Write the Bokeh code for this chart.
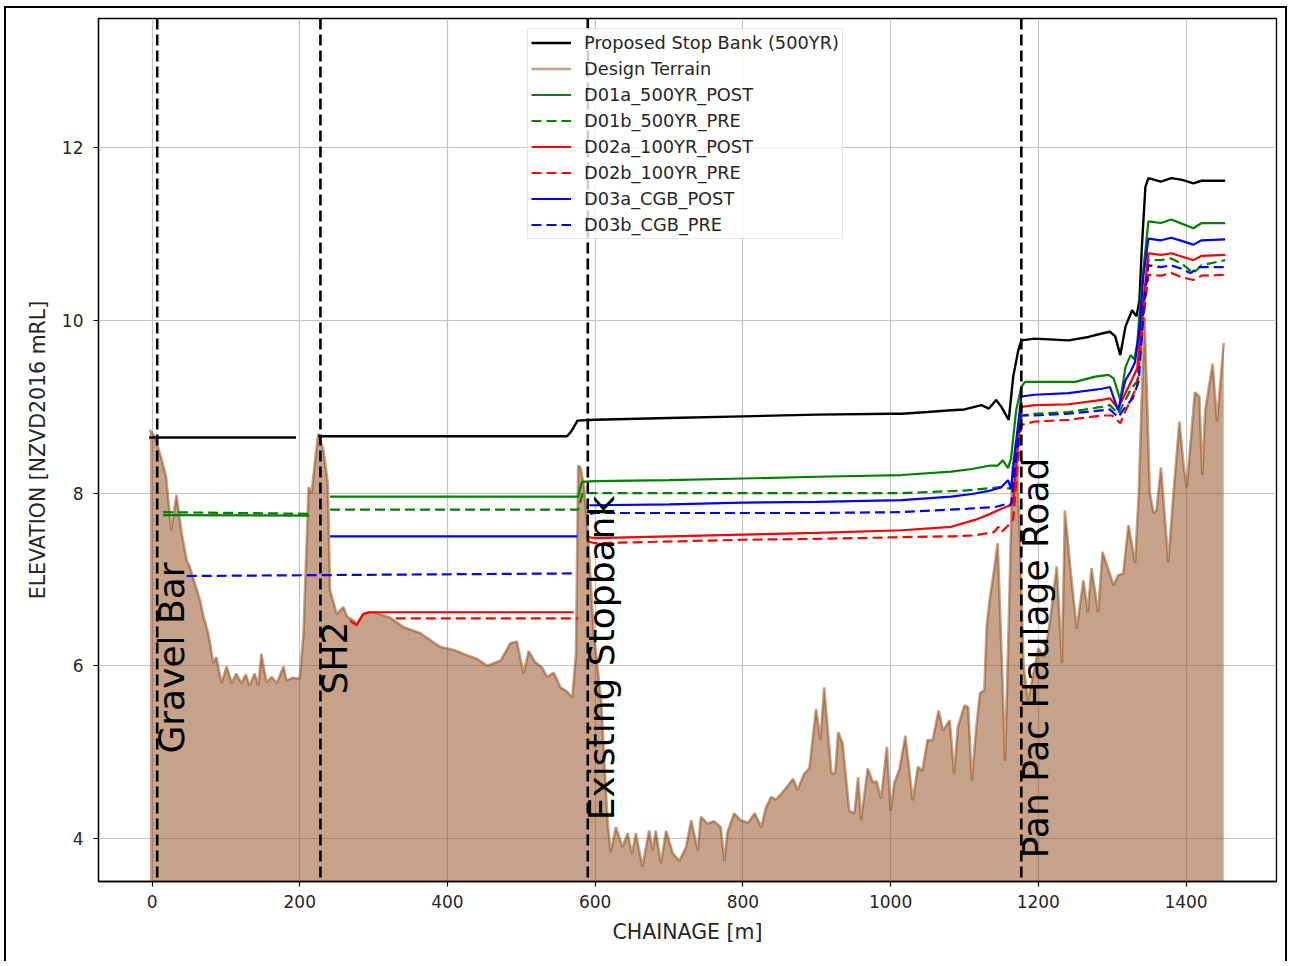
import math
from bokeh.plotting import figure
from bokeh.models import Range1d, FixedTicker, Span, Legend, LegendItem
from bokeh.core.properties import value
from bokeh.embed import file_html
from bokeh.resources import INLINE

nan = float("nan")

# ---------------- data ----------------
x_ticks = [0, 200, 400, 600, 800, 1000, 1200, 1400]
y_ticks = [4, 6, 8, 10, 12]

terrain_x = [-3, 4, 12, 19, 26, 33, 40, 47, 51, 58, 65, 70, 76, 83, 87, 94, 101, 108, 114, 121,
             127, 132, 139, 144, 148, 155, 162, 169, 178, 182, 190, 200, 205, 212, 216, 221, 225,
             232, 238, 241, 250, 259, 264, 272, 277, 286, 300, 322, 340, 363, 390, 410, 427, 440,
             454, 472, 485, 494, 503, 510, 518, 528, 535, 544, 553, 562, 569, 574, 577, 580, 585,
             590, 598, 608, 617, 621, 628, 637, 644, 650, 655, 664, 673, 678, 682, 689, 696, 705,
             714, 723, 730, 739, 743, 752, 761, 770, 775, 779, 788, 797, 807, 816, 825, 831, 838,
             845, 852, 860, 868, 874, 883, 890, 899, 905, 910, 920, 925, 929, 935, 944, 951, 956,
             960, 969, 976, 981, 987, 995, 1000, 1005, 1012, 1020, 1030, 1037, 1043, 1050, 1057,
             1065, 1071, 1080, 1086, 1091, 1100, 1105, 1110, 1116, 1121, 1127, 1130, 1134, 1140,
             1145, 1150, 1155, 1160, 1165, 1170, 1175, 1180, 1186, 1193, 1200, 1208, 1216, 1225,
             1232, 1236, 1245, 1252, 1261, 1267, 1272, 1281, 1287, 1293, 1302, 1308, 1315, 1322,
             1331, 1336, 1340, 1344, 1351, 1356, 1360, 1366, 1376, 1383, 1391, 1397, 1401, 1412,
             1418, 1422, 1426, 1436, 1442, 1451]
terrain_y = [8.73, 8.65, 8.42, 8.19, 7.57, 7.98, 7.54, 7.22, 7.15, 6.95, 6.76, 6.56, 6.38, 6.03, 6.10,
             5.80, 5.99, 5.80, 5.91, 5.80, 5.90, 5.77, 5.91, 5.77, 6.14, 5.81, 5.87, 5.80, 5.99, 5.83,
             5.86, 5.85, 6.37, 8.07, 8.00, 8.40, 8.69, 8.50, 8.11, 6.88, 6.60, 6.68, 6.57, 6.53, 6.49,
             6.60, 6.62, 6.56, 6.45, 6.38, 6.22, 6.18, 6.12, 6.08, 6.00, 6.06, 6.26, 6.28, 5.91, 6.17,
             6.05, 5.98, 5.87, 5.92, 5.75, 5.70, 5.63, 6.14, 8.32, 8.30, 8.07, 7.54, 6.38, 5.60, 4.17,
             3.84, 4.13, 3.90, 4.06, 3.82, 4.06, 3.67, 4.09, 3.86, 4.09, 3.71, 4.09, 3.83, 3.74, 3.90,
             4.21, 3.86, 4.25, 4.17, 4.20, 4.13, 3.74, 4.07, 4.29, 4.21, 4.18, 4.29, 4.13, 4.35, 4.48,
             4.45, 4.52, 4.60, 4.69, 4.56, 4.75, 4.81, 5.50, 5.14, 5.75, 4.75, 4.76, 5.23, 5.10, 4.32,
             4.29, 4.71, 4.21, 4.81, 4.65, 4.66, 4.46, 5.06, 4.32, 4.64, 4.80, 5.19, 4.44, 4.83, 4.78,
             5.14, 5.14, 5.48, 5.25, 5.37, 4.75, 5.29, 5.54, 5.52, 4.67, 5.29, 5.68, 5.72, 6.45, 6.76,
             7.10, 7.42, 6.20, 4.90, 6.50, 8.30, 8.60, 7.50, 6.00, 5.60, 5.90, 6.20, 6.10, 6.53, 7.15,
             6.03, 7.80, 6.99, 6.43, 6.99, 6.62, 7.13, 6.62, 7.32, 7.16, 6.93, 7.05, 7.07, 7.63, 7.19,
             8.00, 9.08, 10.03, 8.00, 7.77, 7.80, 8.30, 7.20, 8.00, 8.83, 8.30, 8.07, 9.17, 9.12, 8.21,
             8.96, 9.50, 8.83, 9.74]

stopbank_x = [-4, 195, nan, 225, 562, 568, 576, 600, 700, 800, 900, 1000, 1015, 1050, 1082, 1100,
              1123, 1133, 1143, 1150, 1160, 1166, 1173, 1177, 1195, 1241, 1268, 1286, 1297, 1304,
              1311, 1318, 1327, 1333, 1337, 1340, 1345, 1349, 1366, 1380, 1395, 1410, 1421, 1440, 1453]
stopbank_y = [8.645, 8.645, nan, 8.66, 8.66, 8.72, 8.84, 8.85, 8.87, 8.89, 8.91, 8.92, 8.92, 8.94,
              8.96, 8.97, 9.02, 8.98, 9.08, 9.00, 8.85, 9.35, 9.66, 9.77, 9.79, 9.77, 9.81, 9.85, 9.87,
              9.82, 9.60, 9.93, 10.12, 10.05, 10.24, 10.82, 11.55, 11.65, 11.61, 11.65, 11.63, 11.59,
              11.62, 11.62, 11.62]

d01a_x = [15, 213, nan, 241, 577, 582, 600, 700, 800, 900, 1015, 1082, 1110, 1135, 1145, 1152,
          1159, 1163, 1170, 1177, 1182, 1218, 1250, 1277, 1295, 1302, 1311, 1318, 1325, 1330, 1334,
          1340, 1349, 1366, 1380, 1395, 1410, 1421, 1453]
d01a_y = [7.745, 7.74, nan, 7.96, 7.96, 8.13, 8.14, 8.15, 8.17, 8.19, 8.21, 8.25, 8.28, 8.32, 8.32,
          8.38, 8.29, 8.40, 8.96, 9.23, 9.29, 9.29, 9.29, 9.35, 9.37, 9.33, 9.08, 9.46, 9.60, 9.55,
          9.74, 10.40, 11.15, 11.13, 11.17, 11.12, 11.07, 11.13, 11.13]

d01b_x = [15, 216, nan, 241, 577, 583, 600, 700, 800, 900, 1015, 1100, 1150, 1163, 1170, 1177, 1195,
          1241, 1286, 1297, 1308, 1318, 1325, 1334, 1342, 1349, 1366, 1380, 1394, 1410, 1421, 1453]
d01b_y = [7.78, 7.76, nan, 7.81, 7.81, 8.00, 8.00, 8.00, 8.00, 8.00, 8.00, 8.03, 8.07, 8.05, 8.50,
          8.90, 8.92, 8.94, 9.00, 9.02, 8.92, 9.08, 9.20, 9.30, 10.00, 10.70, 10.70, 10.72, 10.66,
          10.55, 10.64, 10.70]

d02a_x = [268, 277, 286, 293, 571, nan, 590, 600, 700, 800, 900, 1015, 1082, 1114, 1135, 1150, 1162,
          1166, 1172, 1177, 1195, 1241, 1286, 1297, 1308, 1318, 1326, 1334, 1342, 1349, 1366, 1380,
          1395, 1410, 1421, 1453]
d02a_y = [6.52, 6.47, 6.60, 6.62, 6.62, nan, 7.49, 7.48, 7.50, 7.52, 7.54, 7.57, 7.61, 7.69, 7.76,
          7.82, 7.86, 7.90, 8.50, 9.00, 9.02, 9.03, 9.08, 9.10, 8.98, 9.16, 9.30, 9.45, 10.20, 10.78,
          10.76, 10.78, 10.74, 10.70, 10.75, 10.76]

d02b_x = [330, 577, nan, 590, 600, 700, 800, 900, 1015, 1082, 1114, 1140, 1146, 1150, 1162, 1166,
          1172, 1177, 1195, 1241, 1286, 1300, 1311, 1318, 1326, 1334, 1342, 1349, 1366, 1380, 1395,
          1410, 1421, 1453]
d02b_y = [6.55, 6.55, nan, 7.44, 7.42, 7.44, 7.46, 7.47, 7.49, 7.50, 7.51, 7.55, 7.61, 7.55, 7.65,
          7.70, 8.30, 8.79, 8.83, 8.85, 8.90, 8.90, 8.81, 8.95, 9.10, 9.25, 10.00, 10.53, 10.52,
          10.55, 10.50, 10.47, 10.52, 10.53]

d03a_x = [241, 576, nan, 592, 600, 700, 800, 900, 1015, 1082, 1110, 1135, 1150, 1159, 1163, 1170,
          1177, 1195, 1241, 1286, 1297, 1308, 1318, 1325, 1331, 1337, 1342, 1349, 1366, 1380, 1395,
          1410, 1421, 1453]
d03a_y = [7.50, 7.50, nan, 7.86, 7.86, 7.87, 7.89, 7.90, 7.92, 7.96, 7.99, 8.03, 8.07, 8.15, 8.05,
          8.60, 9.12, 9.14, 9.16, 9.21, 9.23, 8.96, 9.31, 9.41, 9.52, 9.90, 10.50, 10.95, 10.93, 10.96,
          10.92, 10.88, 10.93, 10.94]

d03b_x = [47, 574, nan, 593, 600, 700, 800, 900, 1015, 1105, 1142, 1159, 1163, 1170, 1177, 1195,
          1241, 1286, 1297, 1308, 1318, 1328, 1336, 1343, 1349, 1366, 1380, 1394, 1406, 1418, 1453]
d03b_y = [7.04, 7.07, nan, 7.76, 7.77, 7.77, 7.77, 7.77, 7.78, 7.82, 7.84, 7.88, 7.86, 8.40, 8.90,
          8.90, 8.92, 8.96, 8.97, 8.88, 9.00, 9.10, 9.30, 10.20, 10.64, 10.62, 10.64, 10.60, 10.55,
          10.62, 10.62]

marker_x = [7, 228, 590, 1177]
marker_labels = ["Gravel Bar", "SH2", "Existing Stopbank", "Pan Pac Haulage Road"]
marker_label_y = 6.09

# ---------------- figure ----------------
FONT = "DejaVu Sans"
p = figure(width=1283, height=955, output_backend="svg", toolbar_location=None,
           x_range=Range1d(-72.5, 1522.5), y_range=Range1d(3.5, 13.5),
           min_border_left=92, min_border_right=13, min_border_top=10, min_border_bottom=82)
p.background_fill_color = "white"
p.border_fill_color = "white"
p.outline_line_color = "black"
p.outline_line_width = 1.3
p.styles = {"border-left": "2px solid black", "border-top": "2px solid black",
            "border-right": "2px solid black", "margin-left": "4px", "margin-top": "6px"}

for ax, ticks in ((p.xaxis[0], x_ticks), (p.yaxis[0], y_ticks)):
    ax.ticker = FixedTicker(ticks=ticks, minor_ticks=[])
    ax.major_tick_out = 5
    ax.major_tick_in = 0
    ax.major_tick_line_color = "black"
    ax.major_tick_line_width = 1.2
    ax.axis_line_color = "black"
    ax.axis_line_width = 1.3
    ax.major_label_text_font = FONT
    ax.major_label_text_font_size = "17px"
    ax.major_label_text_color = "#262626"
    ax.axis_label_text_font = FONT
    ax.axis_label_text_font_size = "20.5px"
    ax.axis_label_text_font_style = "normal"
    ax.axis_label_text_color = "#262626"
p.xaxis.major_label_standoff = 8
p.yaxis.major_label_standoff = 10
p.xaxis.axis_label = "CHAINAGE [m]"
p.yaxis.axis_label = "ELEVATION [NZVD2016 mRL]"
p.xaxis.axis_label_standoff = 9
p.yaxis.axis_label_standoff = 9

p.xgrid.ticker = FixedTicker(ticks=x_ticks, minor_ticks=[])
p.ygrid.ticker = FixedTicker(ticks=y_ticks, minor_ticks=[])
for g in (p.xgrid[0], p.ygrid[0]):
    g.grid_line_color = "#c4c4c4"
    g.grid_line_width = 1.2

# terrain fill + outline
p.varea(x=terrain_x, y1=[0] * len(terrain_x), y2=terrain_y,
        fill_color="saddlebrown", fill_alpha=0.5)
r_terrain = p.line(terrain_x, terrain_y, line_color="saddlebrown", line_alpha=0.5, line_width=2.6)

r_sb = p.line(stopbank_x, stopbank_y, line_color="black", line_width=2.4)
r_01a = p.line(d01a_x, d01a_y, line_color="green", line_width=2.2)
r_01b = p.line(d01b_x, d01b_y, line_color="green", line_width=2.2, line_dash="10 5")
r_02a = p.line(d02a_x, d02a_y, line_color="red", line_width=2.2)
r_02b = p.line(d02b_x, d02b_y, line_color="red", line_width=2.2, line_dash="10 5")
r_03a = p.line(d03a_x, d03a_y, line_color="blue", line_width=2.2)
r_03b = p.line(d03b_x, d03b_y, line_color="blue", line_width=2.2, line_dash="10 5")

for xv in marker_x:
    p.add_layout(Span(location=xv, dimension="height", line_color="black",
                      line_width=2.6, line_dash="11 5"))

p.text(x=marker_x, y=[marker_label_y] * len(marker_x), text=marker_labels,
       angle=math.pi / 2, text_align="center", text_baseline="alphabetic",
       x_offset=14, text_font=value(FONT), text_font_size="36px", text_color="black")

legend = Legend(items=[
    LegendItem(label="Proposed Stop Bank (500YR)", renderers=[r_sb]),
    LegendItem(label="Design Terrain", renderers=[r_terrain]),
    LegendItem(label="D01a_500YR_POST", renderers=[r_01a]),
    LegendItem(label="D01b_500YR_PRE", renderers=[r_01b]),
    LegendItem(label="D02a_100YR_POST", renderers=[r_02a]),
    LegendItem(label="D02b_100YR_PRE", renderers=[r_02b]),
    LegendItem(label="D03a_CGB_POST", renderers=[r_03a]),
    LegendItem(label="D03b_CGB_PRE", renderers=[r_03b]),
], location=(429, 642))
legend.label_text_font = FONT
legend.label_text_font_size = "17.8px"
legend.label_text_color = "#262626"
legend.label_height = 21
legend.glyph_height = 21
legend.glyph_width = 40
legend.label_standoff = 13
legend.spacing = 5
legend.padding = 3
legend.margin = 0
legend.background_fill_color = "white"
legend.background_fill_alpha = 0.8
legend.border_line_color = "#cccccc"
legend.border_line_width = 1.2
p.add_layout(legend, "center")

open("out.html", "w").write(file_html(p, INLINE))
